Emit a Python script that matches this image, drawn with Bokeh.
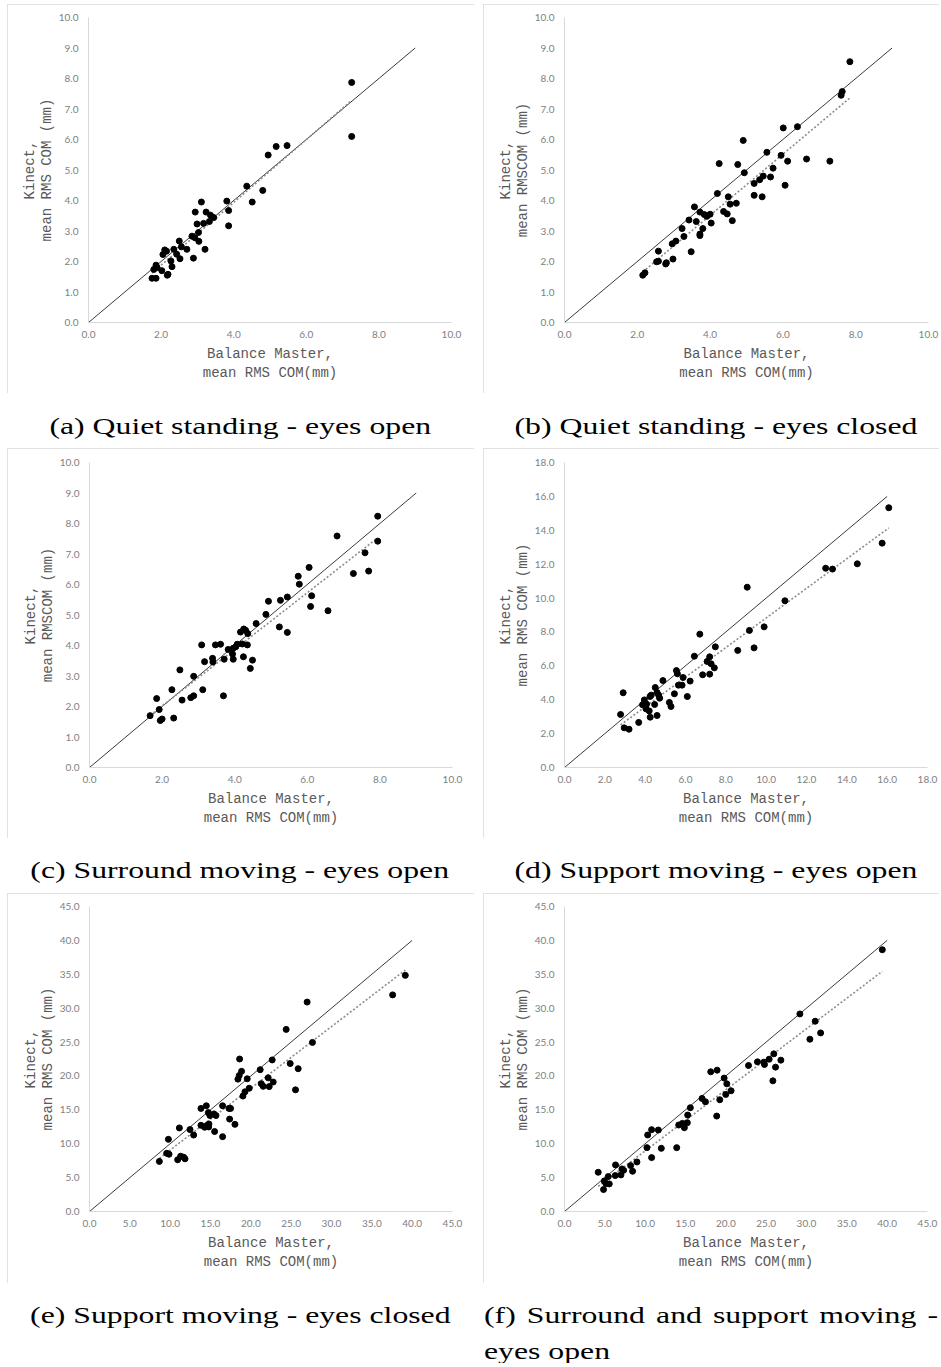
import numpy as np
from bokeh.plotting import figure
from bokeh.layouts import row, column
from bokeh.models import Range1d, FixedTicker, PrintfTickFormatter, Title, Div
from bokeh.embed import file_html
from bokeh.resources import INLINE

# ---------------- data (Balance Master vs Kinect, mean RMS COM, mm) ----------------
a_bm = [7.25, 7.25, 4.95, 5.17, 5.47, 4.36, 4.80, 4.51, 3.81, 3.86, 3.86, 3.11, 2.94, 3.24, 3.36,
        3.45, 3.33, 3.17, 2.99, 3.03, 2.85, 2.93, 3.04, 3.21, 2.89, 2.50, 2.56, 2.71, 2.35, 2.43,
        2.52, 2.27, 2.30, 2.10, 2.15, 2.05, 1.86, 1.89, 1.80, 2.02, 2.19, 2.17, 1.75, 1.86]
a_kin = [7.87, 6.10, 5.49, 5.77, 5.80, 4.47, 4.33, 3.95, 3.98, 3.67, 3.17, 3.95, 3.62, 3.62, 3.52,
         3.44, 3.31, 3.25, 3.23, 2.95, 2.83, 2.78, 2.66, 2.40, 2.11, 2.67, 2.48, 2.40, 2.40, 2.24,
         2.09, 2.02, 1.83, 2.38, 2.34, 2.23, 1.88, 1.80, 1.74, 1.70, 1.58, 1.55, 1.45, 1.45]

b_bm = [7.84, 7.63, 7.60, 6.01, 6.40, 4.91, 5.56, 5.95, 6.13, 6.65, 7.29, 4.25, 4.76, 4.94, 5.73,
        5.66, 5.46, 5.36, 5.21, 6.06, 5.21, 5.43, 4.20, 4.50, 4.55, 4.72, 4.37, 4.47, 4.61, 3.57,
        3.72, 3.84, 3.91, 4.00, 3.62, 3.42, 4.03, 3.80, 3.72, 3.72, 3.23, 3.28, 3.06, 2.96, 3.48,
        2.58, 2.98, 2.58, 2.53, 2.80, 2.78, 2.21, 2.15]
b_kin = [8.55, 7.57, 7.45, 6.38, 6.42, 5.97, 5.58, 5.48, 5.29, 5.36, 5.29, 5.21, 5.18, 4.91, 5.06,
         4.77, 4.80, 4.68, 4.56, 4.50, 4.17, 4.12, 4.23, 4.12, 3.88, 3.91, 3.64, 3.56, 3.34, 3.79,
         3.62, 3.54, 3.48, 3.55, 3.31, 3.36, 3.26, 3.08, 2.90, 2.85, 3.08, 2.82, 2.67, 2.58, 2.32,
         2.34, 2.08, 2.01, 1.99, 1.96, 1.92, 1.63, 1.55]

c_bm = [7.94, 7.94, 6.82, 7.59, 7.69, 7.27, 6.05, 5.75, 5.78, 6.12, 6.09, 6.57, 5.45, 5.26, 4.93,
        4.86, 5.23, 5.45, 4.59, 4.16, 4.25, 4.30, 4.36, 4.21, 4.35, 4.07, 4.03, 3.96, 3.82, 3.94,
        3.96, 4.24, 4.49, 4.43, 3.61, 3.47, 3.09, 3.39, 3.40, 3.17, 3.71, 2.49, 2.87, 2.27, 3.12,
        3.69, 2.87, 2.79, 2.55, 1.85, 1.92, 1.67, 2.00, 1.95, 2.32]
c_kin = [8.24, 7.42, 7.59, 7.04, 6.44, 6.36, 6.56, 6.27, 6.01, 5.63, 5.28, 5.14, 5.59, 5.48, 5.45,
         5.02, 4.61, 4.43, 4.72, 4.44, 4.54, 4.50, 4.39, 4.05, 4.02, 4.04, 3.96, 3.91, 3.87, 3.72,
         3.55, 3.63, 3.52, 3.25, 4.04, 4.02, 4.02, 3.58, 3.46, 3.47, 3.55, 3.20, 2.99, 2.55, 2.55,
         2.35, 2.35, 2.29, 2.21, 2.26, 1.90, 1.70, 1.59, 1.54, 1.62]

d_bm = [16.08, 15.75, 14.52, 12.95, 13.29, 9.06, 10.93, 9.90, 9.17, 9.40, 8.59, 6.71, 7.48, 6.44,
        7.20, 7.07, 7.27, 7.43, 6.85, 7.20, 5.55, 5.60, 5.88, 6.23, 4.88, 5.65, 5.83, 6.09, 5.45,
        4.50, 4.59, 4.67, 4.72, 4.30, 4.24, 3.96, 3.87, 4.07, 4.04, 4.20, 4.47, 5.20, 5.28, 4.25,
        4.59, 3.68, 2.91, 2.78, 2.96, 3.20]
d_kin = [15.33, 13.24, 12.02, 11.76, 11.71, 10.64, 9.84, 8.30, 8.09, 7.06, 6.91, 7.87, 7.12, 6.57,
         6.53, 6.26, 6.12, 5.88, 5.47, 5.51, 5.72, 5.53, 5.31, 5.10, 5.13, 4.86, 4.86, 4.19, 4.35,
         4.72, 4.43, 4.27, 4.09, 4.27, 4.19, 3.99, 3.70, 3.74, 3.46, 3.34, 3.72, 3.84, 3.60, 2.97,
         3.07, 2.66, 4.41, 3.13, 2.34, 2.26]

e_bm = [39.15, 37.58, 26.98, 24.38, 27.64, 24.88, 25.87, 25.54, 18.61, 18.85, 18.56, 18.40, 19.55,
        21.16, 22.65, 22.15, 21.29, 21.53, 22.28, 22.77, 19.80, 19.27, 19.02, 16.50, 17.29, 17.49,
        17.37, 18.03, 14.48, 13.82, 14.73, 14.93, 15.43, 15.68, 13.82, 14.27, 14.60, 14.81, 14.77,
        15.51, 16.50, 11.14, 12.46, 12.91, 9.78, 9.57, 9.86, 8.66, 10.93, 11.30, 11.67, 11.84]
e_kin = [34.84, 31.96, 30.90, 26.87, 24.95, 21.83, 21.07, 17.95, 22.50, 20.68, 20.06, 19.53, 19.58,
         20.92, 22.36, 19.72, 18.86, 18.47, 18.43, 19.10, 18.19, 17.66, 17.03, 15.60, 15.21, 15.21,
         13.63, 12.86, 15.60, 15.21, 14.59, 14.16, 14.40, 14.16, 12.72, 12.43, 12.72, 12.91, 12.48,
         11.80, 11.04, 12.33, 12.09, 11.28, 10.65, 8.59, 8.45, 7.39, 7.63, 8.16, 8.01, 7.77]

f_bm = [39.40, 29.18, 31.08, 31.75, 30.42, 25.95, 25.37, 26.82, 24.71, 24.79, 23.92, 22.81, 26.16,
        25.83, 19.79, 20.12, 20.65, 19.99, 19.25, 18.13, 18.92, 17.05, 17.47, 18.87, 15.60, 15.27,
        15.23, 14.61, 14.16, 14.86, 11.63, 10.80, 10.31, 10.22, 12.00, 13.91, 10.80, 8.98, 8.20,
        8.44, 6.33, 7.12, 7.33, 7.00, 6.29, 5.42, 4.93, 5.13, 5.55, 4.84, 4.18]
f_kin = [38.62, 29.15, 28.07, 26.35, 25.42, 23.26, 22.47, 22.33, 22.03, 21.69, 22.08, 21.54, 21.30,
         19.28, 19.68, 18.84, 17.81, 17.27, 16.49, 20.61, 20.85, 16.68, 16.19, 14.08, 15.31, 14.23,
         13.10, 13.00, 12.76, 12.37, 12.02, 12.07, 11.29, 9.42, 9.32, 9.42, 7.95, 7.31, 6.77, 5.94,
         6.87, 6.28, 6.08, 5.40, 5.30, 5.15, 4.51, 4.12, 4.07, 3.24, 5.79]

# axis ticks
ticks_10_x = [0, 2, 4, 6, 8, 10]
ticks_10_y = [0, 1, 2, 3, 4, 5, 6, 7, 8, 9, 10]
ticks_18 = [0, 2, 4, 6, 8, 10, 12, 14, 16, 18]
ticks_45 = [0, 5, 10, 15, 20, 25, 30, 35, 40, 45]

# identity-line end value per panel
identity_end = {"a": 9, "b": 9, "c": 9, "d": 16, "e": 40, "f": 40}

x_label_1 = "Balance Master,"
x_label_2 = "mean RMS COM(mm)"
y_label_1 = "Kinect,"
y_label_2 = {"a": "mean RMS COM (mm)", "b": "mean RMSCOM (mm)", "c": "mean RMSCOM (mm)",
             "d": "mean RMS COM (mm)", "e": "mean RMS COM (mm)", "f": "mean RMS COM (mm)"}

captions = {"a": "(a) Quiet standing - eyes open",
            "b": "(b) Quiet standing - eyes closed",
            "c": "(c) Surround moving - eyes open",
            "d": "(d) Support moving - eyes open",
            "e": "(e) Support moving - eyes closed",
            "f": "(f) Surround and support moving - eyes open"}

TICK_COLOR = "#808080"
LABEL_COLOR = "#595959"


def make_panel(key, bm, kin, axmax, xt, yt, W, H, bl, br, bt, bb, margin):
    p = figure(width=W, height=H, x_range=Range1d(0, axmax), y_range=Range1d(0, axmax),
               output_backend="svg", toolbar_location=None,
               min_border_left=bl, min_border_right=br, min_border_top=bt, min_border_bottom=bb,
               margin=margin)
    p.outline_line_color = None
    p.xgrid.visible = False
    p.ygrid.visible = False
    p.background_fill_color = "white"
    p.border_fill_color = "white"
    p.styles = {"outline": "1px solid #d9d9d9", "outline-offset": "-1px"}
    for ax, tk in ((p.xaxis[0], xt), (p.yaxis[0], yt)):
        ax.ticker = FixedTicker(ticks=tk)
        ax.formatter = PrintfTickFormatter(format="%.1f")
        ax.axis_line_color = "#d9d9d9"
        ax.axis_line_width = 1
        ax.major_tick_line_color = None
        ax.minor_tick_line_color = None
        ax.major_tick_out = 0
        ax.major_tick_in = 0
        ax.minor_tick_out = 0
        ax.major_label_text_font = "Lato"
        ax.major_label_text_font_size = "10px"
        ax.major_label_text_color = TICK_COLOR
    p.xaxis.major_label_standoff = 8
    p.yaxis.major_label_standoff = 10

    def ttl(text, standoff):
        return Title(text=text, align="center", text_font="Liberation Mono",
                     text_font_size="14px", text_font_style="normal",
                     text_color=LABEL_COLOR, standoff=standoff)

    p.add_layout(ttl(y_label_2[key], 1), "left")
    p.add_layout(ttl(y_label_1, -2), "left")
    p.add_layout(ttl(x_label_1, 6), "below")
    p.add_layout(ttl(x_label_2, -3), "below")

    # identity line
    ie = identity_end[key]
    p.line([0, ie], [0, ie], line_color="#3a3a3a", line_width=1)
    # least-squares trend line over the data range
    slope, icpt = np.polyfit(bm, kin, 1)
    xs = [min(bm), max(bm)]
    p.line(xs, [slope * v + icpt for v in xs], line_color="#8c8c8c", line_width=1.6,
           line_dash="2 2")
    p.scatter(bm, kin, size=6, fill_color="black", line_color="black")
    return p


def caption_div(text, width, height, pad_top, pad_left, align="center"):
    html = (
        f'<div style="width:{width}px;height:{height}px;overflow:hidden;margin:0;padding:0;">'
        f'<div style="padding-top:{pad_top}px;padding-left:{pad_left}px;text-align:{align};'
        f'font-family:\'Liberation Serif\',serif;font-size:23px;line-height:36px;color:#000;">'
        f'<span style="display:inline-block;transform:scaleX(1.38);white-space:nowrap;">{text}</span>'
        f'</div></div>'
    )
    return Div(text=html, width=width, height=height, margin=0)


def caption_div_justify(text, width, height, pad_top, pad_left):
    html = (
        f'<div style="width:{width}px;height:{height}px;overflow:hidden;margin:0;padding:0;">'
        f'<div style="padding-top:{pad_top}px;padding-left:{pad_left}px;">'
        f'<div style="width:329px;transform:scaleX(1.38);transform-origin:left top;'
        f'text-align:justify;font-family:\'Liberation Serif\',serif;font-size:23px;'
        f'line-height:36px;color:#000;">{text}</div>'
        f'</div></div>'
    )
    return Div(text=html, width=width, height=height, margin=0)


pa = make_panel("a", a_bm, a_kin, 10, ticks_10_x, ticks_10_y, 467, 389, 81, 23, 13, 71, (4, 0, 0, 7))
pb = make_panel("b", b_bm, b_kin, 10, ticks_10_x, ticks_10_y, 456, 389, 81, 11, 13, 71, (4, 0, 0, 9))
pc = make_panel("c", c_bm, c_kin, 10, ticks_10_x, ticks_10_y, 467, 390, 82, 22, 13, 69, (0, 0, 0, 7))
pd = make_panel("d", d_bm, d_kin, 18, ticks_18, ticks_18, 456, 390, 81, 12, 14, 71, (0, 0, 0, 9))
pe = make_panel("e", e_bm, e_kin, 45, ticks_45, ticks_45, 467, 390, 82, 22, 13, 65, (0, 0, 0, 7))
pf = make_panel("f", f_bm, f_kin, 45, ticks_45, ticks_45, 456, 390, 81, 12, 12, 72, (0, 0, 0, 9))

cap1 = row(caption_div(captions["a"], 480, 55, 16, 0),
           caption_div(captions["b"], 461, 55, 16, 11))
cap2 = row(caption_div(captions["c"], 480, 55, 15, 0),
           caption_div(captions["d"], 461, 55, 15, 11))
cap3 = row(caption_div(captions["e"], 480, 80, 15, 0),
           caption_div_justify(captions["f"], 461, 80, 15, 4))

layout = column(row(pa, pb), cap1, row(pc, pd), cap2, row(pe, pf), cap3)

open("out.html", "w").write(file_html(layout, INLINE))
